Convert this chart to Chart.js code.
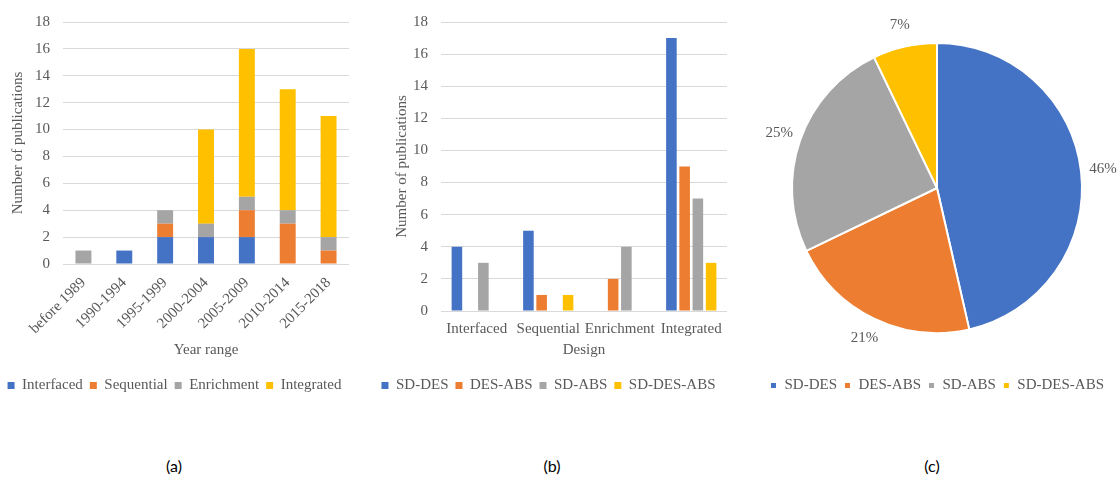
<!DOCTYPE html>
<html>
<head>
<meta charset="utf-8">
<script src="https://cdn.jsdelivr.net/npm/chart.js@4.4.1/dist/chart.umd.min.js"></script>
<style>
  html, body { margin: 0; padding: 0; background: #ffffff; }
  body { width: 1119px; height: 478px; position: relative; overflow: hidden; }
  .panel { position: absolute; top: 0; }
  .caption {
    position: absolute; top: 456px; width: 60px; margin-left: -30px;
    text-align: center; font-family: Lato; font-size: 16px; color: #000;
  }
</style>
</head>
<body>
<div class="panel" style="left:0px"><canvas id="yearChart" width="370" height="403"></canvas></div>
<div class="panel" style="left:370px"><canvas id="designChart" width="370" height="403"></canvas></div>
<div class="panel" style="left:740px"><canvas id="shareChart" width="379" height="403"></canvas></div>
<div class="caption" style="left:174px">(a)</div>
<div class="caption" style="left:552px">(b)</div>
<div class="caption" style="left:932px">(c)</div>

<script>
// (a) publications per year range, stacked by design
const yearRanges = ['before 1989', '1990-1994', '1995-1999', '2000-2004', '2005-2009', '2010-2014', '2015-2018'];
const interfacedByYear = [0, 1, 2, 2, 2, 0, 0];
const sequentialByYear = [0, 0, 1, 0, 2, 3, 1];
const enrichmentByYear = [1, 0, 1, 1, 1, 1, 1];
const integratedByYear = [0, 0, 0, 7, 11, 9, 9];

// (b) publications per design, by technique combination
const designs = ['Interfaced', 'Sequential', 'Enrichment', 'Integrated'];
const sdDes = [4, 5, 0, 17];
const desAbs = [0, 1, 2, 9];
const sdAbs = [3, 0, 4, 7];
const sdDesAbs = [0, 1, 0, 3];

// (c) share of each combination (totals of b)
const combos = ['SD-DES', 'DES-ABS', 'SD-ABS', 'SD-DES-ABS'];
const comboTotals = [26, 12, 14, 4];

const yTicks = [0, 2, 4, 6, 8, 10, 12, 14, 16, 18];

(function () {
  'use strict';

  const BLUE = '#4472c4';
  const ORANGE = '#ed7d31';
  const GRAY = '#a5a5a5';
  const GOLD = '#ffc000';
  const textColor = '#595959';
  const gridColor = '#d9d9d9';
  // single family only: font lists fall back to sans in this canvas
  const serif = { family: 'Liberation Serif', size: 15 };

  Chart.defaults.color = textColor;
  Chart.defaults.font.family = serif.family;
  Chart.defaults.font.size = serif.size;
  Chart.defaults.animation = false;

  function legendOpts() {
    return {
      display: true,
      position: 'bottom',
      labels: { boxWidth: 7, boxHeight: 7, padding: 7, color: textColor, font: serif },
    };
  }

  function yAxis(width, titlePad) {
    return {
      min: 0,
      max: 18,
      afterFit: function (scale) { scale.width = width; },
      afterBuildTicks: function (scale) {
        scale.ticks = yTicks.map(function (v) { return { value: v }; });
      },
      ticks: { padding: 13, color: textColor, font: serif },
      grid: { color: gridColor, drawTicks: false },
      border: { display: false },
      title: {
        display: true,
        text: 'Number of publications',
        color: textColor,
        font: serif,
        padding: { top: titlePad, bottom: 0 },
      },
    };
  }

  function initCharts() {
    // 1. Year range chart (stacked bars)
    new Chart(document.getElementById('yearChart'), {
      type: 'bar',
      data: {
        labels: yearRanges,
        datasets: [
          { label: 'Interfaced', data: interfacedByYear, backgroundColor: BLUE },
          { label: 'Sequential', data: sequentialByYear, backgroundColor: ORANGE },
          { label: 'Enrichment', data: enrichmentByYear, backgroundColor: GRAY },
          { label: 'Integrated', data: integratedByYear, backgroundColor: GOLD },
        ],
      },
      options: {
        responsive: false,
        layout: { padding: { top: 18, left: 0, right: 21, bottom: 0 } },
        datasets: { bar: { categoryPercentage: 1, barPercentage: 0.39 } },
        plugins: { legend: legendOpts(), tooltip: { enabled: false } },
        scales: {
          x: {
            stacked: true,
            afterFit: function (scale) { scale.height = 107; },
            ticks: { autoSkip: false, minRotation: 45, maxRotation: 45, padding: 10, color: textColor, font: serif },
            grid: { display: false, drawTicks: false },
            border: { display: false },
            title: { display: true, text: 'Year range', color: textColor, font: serif, padding: { top: 0, bottom: 12 } },
          },
          y: Object.assign(yAxis(63, 9), { stacked: true }),
        },
      },
    });

    // 2. Design chart (grouped bars)
    new Chart(document.getElementById('designChart'), {
      type: 'bar',
      data: {
        labels: designs,
        datasets: [
          { label: 'SD-DES', data: sdDes, backgroundColor: BLUE },
          { label: 'DES-ABS', data: desAbs, backgroundColor: ORANGE },
          { label: 'SD-ABS', data: sdAbs, backgroundColor: GRAY },
          { label: 'SD-DES-ABS', data: sdDesAbs, backgroundColor: GOLD },
        ],
      },
      options: {
        responsive: false,
        layout: { padding: { top: 18, left: 0, right: 13, bottom: 0 } },
        datasets: { bar: { categoryPercentage: 0.74, barPercentage: 0.8 } },
        plugins: { legend: legendOpts(), tooltip: { enabled: false } },
        scales: {
          x: {
            afterFit: function (scale) { scale.height = 60; },
            ticks: { autoSkip: false, minRotation: 0, maxRotation: 0, padding: 9, color: textColor, font: serif },
            grid: { display: false, drawTicks: false },
            border: { display: false },
            title: { display: true, text: 'Design', color: textColor, font: serif, padding: { top: 0, bottom: 12 } },
          },
          y: yAxis(71, 23),
        },
      },
    });

    // 3. Share pie with percentage labels outside the slices
    const outsideLabels = {
      id: 'outsideLabels',
      afterDatasetsDraw: function (chart) {
        const ctx = chart.ctx;
        const values = chart.data.datasets[0].data;
        const total = values.reduce(function (a, b) { return a + b; }, 0);
        ctx.save();
        ctx.font = '15px "Liberation Serif"';
        ctx.fillStyle = textColor;
        ctx.textAlign = 'center';
        ctx.textBaseline = 'middle';
        chart.getDatasetMeta(0).data.forEach(function (arc, i) {
          const p = arc.getProps(['x', 'y', 'startAngle', 'endAngle', 'outerRadius'], true);
          const mid = (p.startAngle + p.endAngle) / 2;
          const r = p.outerRadius + 22;
          const pct = Math.round((values[i] / total) * 100) + '%';
          ctx.fillText(pct, p.x + Math.cos(mid) * r, p.y + Math.sin(mid) * r);
        });
        ctx.restore();
      },
    };

    new Chart(document.getElementById('shareChart'), {
      type: 'pie',
      data: {
        labels: combos,
        datasets: [
          {
            data: comboTotals,
            backgroundColor: [BLUE, ORANGE, GRAY, GOLD],
            borderColor: '#ffffff',
            borderWidth: 2,
            radius: 145,
          },
        ],
      },
      options: {
        responsive: false,
        layout: { padding: { top: 5, left: 15, right: 0, bottom: 0 } },
        plugins: { legend: legendOpts(), tooltip: { enabled: false } },
      },
      plugins: [outsideLabels],
    });
  }

  document.addEventListener('DOMContentLoaded', initCharts);
})();
</script>
</body>
</html>
